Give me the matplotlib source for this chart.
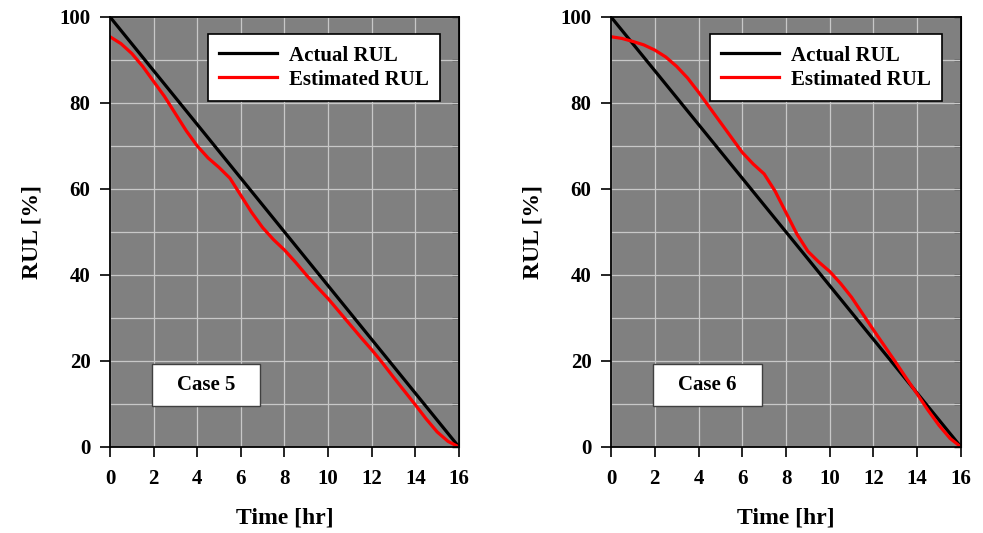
import matplotlib.pyplot as plt
from matplotlib.patches import Rectangle
import numpy as np

# Time axis (hr) and RUL values (%)
time_hr = [0, 0.5, 1, 1.5, 2, 2.5, 3, 3.5, 4, 4.5, 5, 5.5, 6, 6.5, 7, 7.5, 8,
           8.5, 9, 9.5, 10, 10.5, 11, 11.5, 12, 12.5, 13, 13.5, 14, 14.5, 15, 15.5, 16]
actual_rul = [100 - 6.25 * t for t in time_hr]
est_rul_case5 = [95.4, 93.8, 91.5, 88.5, 85, 81.5, 77.5, 73.5, 70, 67.2, 65, 62.5,
                 58.5, 54.5, 51, 48.2, 45.8, 43, 40, 37.2, 34.5, 31.5, 28.5, 25.5,
                 22.6, 19.5, 16.2, 13, 9.8, 6.5, 3.5, 1.3, 0]
est_rul_case6 = [95.4, 95, 94.3, 93.5, 92.3, 90.7, 88.5, 85.8, 82.5, 79, 75.5, 72,
                 68.5, 65.8, 63.5, 59.5, 54.5, 49.5, 45.5, 43, 40.8, 38, 34.8, 31,
                 27.2, 23.5, 19.8, 16, 12.3, 8.5, 5, 2, 0]
case_labels = ["Case 5", "Case 6"]

plt.rcParams["font.family"] = ["Liberation Serif", "DejaVu Serif"]
plt.rcParams["font.weight"] = "bold"

fig = plt.figure(figsize=(9.83, 5.33), dpi=100)
positions = [[0.1119, 0.1614, 0.355, 0.8068], [0.6216, 0.1614, 0.356, 0.8068]]

for pos, est, label in zip(positions, [est_rul_case5, est_rul_case6], case_labels):
    ax = fig.add_axes(pos)
    ax.set_facecolor("#808080")

    ax.plot(time_hr, actual_rul, color="black", linewidth=2.3, label="Actual RUL")
    ax.plot(time_hr, est, color="#ff0000", linewidth=2.3, label="Estimated RUL")

    ax.set_xlim(0, 16)
    ax.set_ylim(0, 100)
    ax.set_xticks(np.arange(0, 17, 2))
    ax.set_yticks(np.arange(0, 101, 20))
    ax.set_yticks(np.arange(0, 101, 10), minor=True)
    ax.tick_params(axis="both", which="major", direction="out", length=7,
                   width=1.2, labelsize=15)
    ax.tick_params(axis="x", which="major", pad=9)
    ax.tick_params(axis="y", which="major", pad=7)
    ax.tick_params(axis="y", which="minor", left=False)
    ax.grid(True, which="both", color="#c8c8c8", linewidth=0.9)
    ax.set_axisbelow(True)
    for s in ax.spines.values():
        s.set_linewidth(1.3)

    # inward ticks on the right spine
    sec = ax.secondary_yaxis("right")
    sec.set_yticks(np.arange(0, 101, 10))
    sec.tick_params(direction="in", length=5, width=1.0, labelright=False)

    ax.set_xlabel("Time [hr]", fontsize=17, fontweight="bold", labelpad=13)
    ax.set_ylabel("RUL [%]", fontsize=17, fontweight="bold", labelpad=12)

    leg = ax.legend(loc="upper right", bbox_to_anchor=(0.946, 0.96),
                    borderaxespad=0, fontsize=15, frameon=True, fancybox=False,
                    handlelength=2.8, borderpad=0.55, labelspacing=0.2,
                    handletextpad=0.55)
    leg.get_frame().set_edgecolor("black")
    leg.get_frame().set_linewidth(1.2)
    leg.get_frame().set_alpha(1)

    # case label box
    ax.add_patch(Rectangle((0.12, 0.095), 0.31, 0.098, transform=ax.transAxes,
                           facecolor="white", edgecolor="#404040", linewidth=1.0,
                           zorder=4))
    ax.text(0.275, 0.144, label, transform=ax.transAxes, ha="center", va="center",
            fontsize=15, fontweight="bold", zorder=5)

fig.savefig("out.png", dpi=100)
